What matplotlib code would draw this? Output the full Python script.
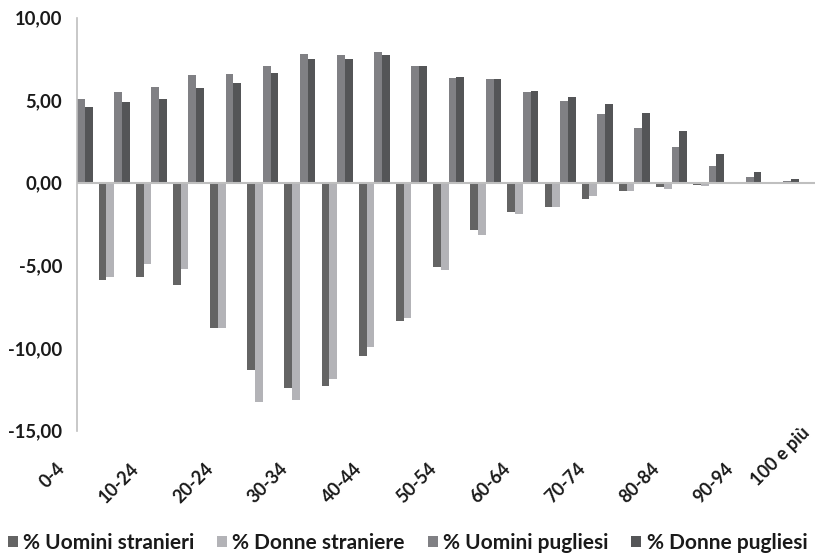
import numpy as np
import matplotlib
matplotlib.use("Agg")
import matplotlib.pyplot as plt
from matplotlib.transforms import ScaledTranslation, blended_transform_factory
from matplotlib.patches import Patch

plt.rcParams["font.family"] = ["Lato", "DejaVu Sans"]
plt.rcParams["font.weight"] = "bold"

# age classes (21 of them, only every other one is labelled)
classi = ["0-4", "5-9", "10-14", "15-19", "20-24", "25-29", "30-34", "35-39",
          "40-44", "45-49", "50-54", "55-59", "60-64", "65-69", "70-74",
          "75-79", "80-84", "85-89", "90-94", "95-99", "100 e più"]
etichette = ["0-4", "10-24", "20-24", "30-34", "40-44", "50-54",
             "60-64", "70-74", "80-84", "90-94", "100 e più"]

# foreigners shown as negative shares
uomini_stranieri = [-6.00, -5.92, -5.70, -6.18, -8.79, -11.33, -12.42, -12.30,
                    -10.48, -8.36, -5.09, -2.85, -1.76, -1.45, -0.97, -0.48,
                    -0.24, -0.12, -0.10, -0.02, -0.01]
donne_straniere = [-5.70, -5.70, -4.91, -5.21, -8.79, -13.27, -13.15, -11.88,
                   -9.94, -8.18, -5.27, -3.15, -1.88, -1.45, -0.79, -0.48,
                   -0.36, -0.18, -0.10, -0.10, -0.03]
uomini_pugliesi = [5.05, 5.47, 5.78, 6.50, 6.56, 7.05, 7.78, 7.71, 7.90, 7.05,
                   6.32, 6.26, 5.47, 4.93, 4.14, 3.29, 2.14, 0.99, 0.32, 0.08,
                   0.01]
donne_pugliesi = [4.56, 4.87, 5.05, 5.72, 6.05, 6.62, 7.47, 7.47, 7.71, 7.05,
                  6.38, 6.26, 5.53, 5.17, 4.74, 4.20, 3.11, 1.72, 0.62, 0.20,
                  0.04]

serie = [
    ("% Uomini stranieri", uomini_stranieri, "#646464"),
    ("% Donne straniere", donne_straniere, "#b3b3b7"),
    ("% Uomini pugliesi", uomini_pugliesi, "#808084"),
    ("% Donne pugliesi", donne_pugliesi, "#545557"),
]

W, H = 815, 556
fig = plt.figure(figsize=(W / 100, H / 100), dpi=100)
# category axis sits "on tick marks": first and last clusters are cut in half
ax = fig.add_axes([77 / W, (H - 430.5) / H, (820.2 - 77) / W, 413 / H])

x = np.arange(len(classi))
w = 0.2086
for i, (nome, vals, col) in enumerate(serie):
    ax.bar(x + (i - 1.5) * w, vals, width=w, align="center", color=col,
           linewidth=0, zorder=2)

ax.set_xlim(0, len(classi) - 1)
ax.set_ylim(-15, 10)
ax.axhline(0, color="#bfbfbf", lw=1.5, zorder=3)

ax.set_yticks([-15, -10, -5, 0, 5, 10])
ax.set_yticklabels([f"{v:.2f}".replace(".", ",") for v in [-15, -10, -5, 0, 5, 10]])
ax.tick_params(axis="y", length=0, pad=10.5, labelsize=13.3, labelcolor="#1a1a1a")
ax.set_xticks([])

for s in ["top", "right", "bottom"]:
    ax.spines[s].set_visible(False)
ax.spines["left"].set_color("#bfbfbf")
ax.spines["left"].set_linewidth(1.2)

# rotated category labels at the low end of the plot
trans = blended_transform_factory(ax.transData, ax.transAxes)
for k, lab in enumerate(etichette):
    dx, dy = -9, -29
    if lab == "100 e più":
        # pulled back inside the figure edge
        dx, dy = -7, 6
    ax.text(2 * k, 0, lab, rotation=45, ha="right", va="top",
            fontsize=13, color="#1a1a1a",
            transform=trans + ScaledTranslation(dx / 100, dy / 100, fig.dpi_scale_trans),
            clip_on=False)

handles = [Patch(facecolor=c, edgecolor="none") for _, _, c in serie]
fig.legend(handles, [n for n, _, _ in serie], loc="center",
           bbox_to_anchor=(0.5, (H - 543) / H), ncol=4, frameon=False,
           fontsize=15, handlelength=0.48, handleheight=0.48,
           handletextpad=0.25, columnspacing=1.1, borderaxespad=0)
for t in fig.legends[0].get_texts():
    t.set_color("#1a1a1a")

fig.savefig("out.png", dpi=100)
